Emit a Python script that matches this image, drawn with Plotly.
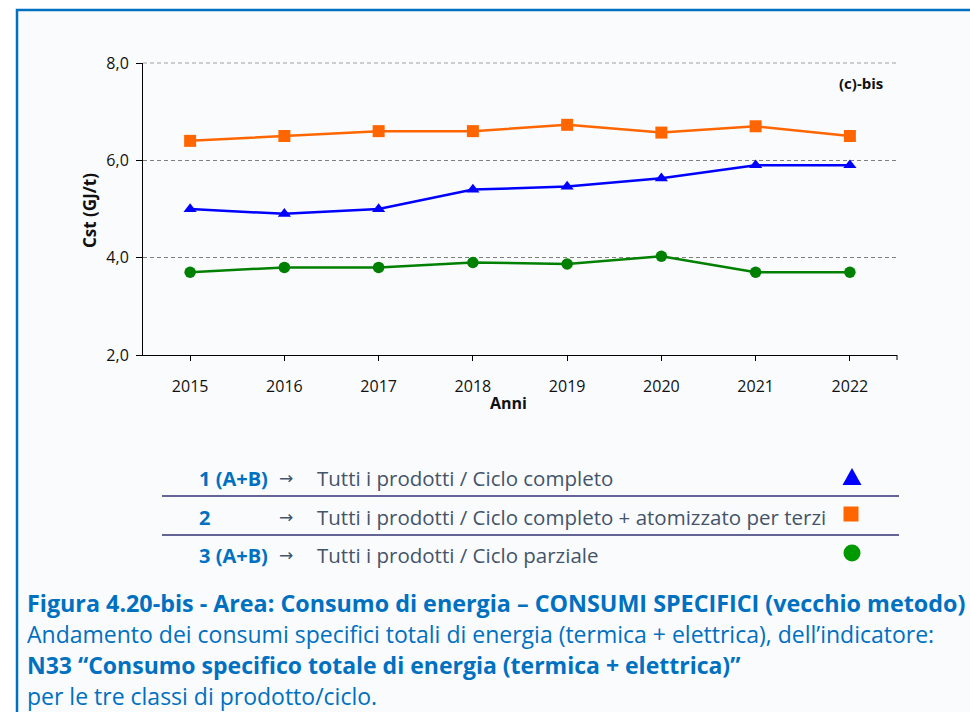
import plotly.graph_objects as go

# ---- data ----
years = ["2015", "2016", "2017", "2018", "2019", "2020", "2021", "2022"]
s1_ciclo_completo = [5.0, 4.9, 5.0, 5.4, 5.46, 5.63, 5.9, 5.9]
s2_completo_terzi = [6.4, 6.5, 6.6, 6.6, 6.73, 6.57, 6.7, 6.5]
s3_ciclo_parziale = [3.7, 3.8, 3.8, 3.9, 3.87, 4.03, 3.7, 3.7]
y_ticks = [2, 4, 6, 8]

# ---- geometry (reference pixel coords) ----
W, H = 970, 712
L, R, T, B = 143, 897, 63, 355
def px(X):
    return (X - L) / (R - L)
def py(Y):
    return (B - Y) / (B - T)

BG = "#F9FBFD"
BLUE_TXT = "#0070C0"
SLATE = "#44546A"
FONT = "Open Sans"

fig = go.Figure()
fig.add_trace(go.Scatter(x=years, y=s2_completo_terzi, mode="lines+markers",
                         line=dict(color="#FF6600", width=2.5),
                         marker=dict(symbol="square", size=12, color="#FF6600"),
                         name="2", showlegend=False))
fig.add_trace(go.Scatter(x=years, y=s1_ciclo_completo, mode="lines+markers",
                         line=dict(color="#0000FF", width=2.5),
                         marker=dict(symbol="triangle-up", size=11.5, color="#0000FF"),
                         name="1 (A+B)", showlegend=False))
fig.add_trace(go.Scatter(x=years, y=s3_ciclo_parziale, mode="lines+markers",
                         line=dict(color="#008000", width=2.5),
                         marker=dict(symbol="circle", size=11.5, color="#008000"),
                         name="3 (A+B)", showlegend=False))

shapes = []
# background frame with blue left/top border
shapes.append(dict(type="rect", xref="paper", yref="paper", layer="below",
                   x0=px(17), x1=px(1000), y0=py(10), y1=py(760),
                   fillcolor=BG, line=dict(color="#0070C0", width=2.5)))
# top gridline at 8,0 (lighter)
shapes.append(dict(type="line", xref="paper", yref="paper", x0=0, x1=1, y0=1, y1=1,
                   line=dict(color="#A0A0A0", width=1, dash="4px,3px")))
# small tick at right end of x axis
shapes.append(dict(type="line", xref="paper", yref="paper",
                   x0=1, x1=1, y0=0, y1=py(360), line=dict(color="black", width=1)))
# legend table lines
for Y in (496, 535):
    shapes.append(dict(type="line", xref="paper", yref="paper",
                       x0=px(162), x1=px(899), y0=py(Y), y1=py(Y),
                       line=dict(color="#646496", width=2)))
# legend symbols
shapes.append(dict(type="path", xref="paper", yref="paper",
                   path=f"M {px(842.5)},{py(485)} L {px(861.5)},{py(485)} L {px(852)},{py(468)} Z",
                   fillcolor="#0000FF", line=dict(width=0)))
shapes.append(dict(type="rect", xref="paper", yref="paper",
                   x0=px(843.5), x1=px(858.5), y0=py(521.5), y1=py(506.5),
                   fillcolor="#FF6600", line=dict(width=0)))
shapes.append(dict(type="circle", xref="paper", yref="paper",
                   x0=px(843.5), x1=px(860.5), y0=py(561.5), y1=py(544.5),
                   fillcolor="#009900", line=dict(width=0)))

ann = []
def text(X, Y, s, size, color, bold=False, xanchor="left", angle=0, family=FONT):
    ann.append(dict(xref="paper", yref="paper", x=px(X), y=py(Y), text=(f"<b>{s}</b>" if bold else s),
                    showarrow=False, xanchor=xanchor, yanchor="middle", textangle=angle,
                    font=dict(family=family, size=size, color=color)))

text(861, 83, "(c)-bis", 15, "#111111", bold=True, xanchor="center")
text(508, 403, "Anni", 16, "#111111", bold=True, xanchor="center")
text(89, 211, "Cst (GJ/t)", 17, "#111111", bold=True, xanchor="center", angle=-90)

rows = [("1 (A+B)", "Tutti i prodotti / Ciclo completo", 478),
        ("2", "Tutti i prodotti / Ciclo completo + atomizzato per terzi", 517),
        ("3 (A+B)", "Tutti i prodotti / Ciclo parziale", 555)]
for lab, desc, Y in rows:
    text(197, Y, lab, 20, BLUE_TXT, bold=True)
    text(277, Y, "→", 17, SLATE, family="DejaVu Sans")
    text(315, Y, desc, 20.5, SLATE)

text(25, 603, "Figura 4.20-bis - Area: Consumo di energia – CONSUMI SPECIFICI (vecchio metodo)", 23.3, BLUE_TXT, bold=True)
text(25, 634, "Andamento dei consumi specifici totali di energia (termica + elettrica), dell’indicatore:", 23, BLUE_TXT)
text(25, 665, "N33 “Consumo specifico totale di energia (termica + elettrica)”", 23, BLUE_TXT, bold=True)
text(25, 696, "per le tre classi di prodotto/ciclo.", 23, BLUE_TXT)

fig.update_layout(
    width=W, height=H, autosize=False,
    margin=dict(l=L, r=W - R, t=T, b=H - B, pad=0),
    paper_bgcolor="white", plot_bgcolor=BG,
    separators=",.",
    font=dict(family=FONT, size=16, color="#111111"),
    shapes=shapes, annotations=ann,
    xaxis=dict(type="category", range=[-0.5, 7.5], showgrid=False,
               showline=True, linecolor="black", linewidth=1,
               ticks="outside", ticklen=5, tickcolor="black",
               tickfont=dict(size=16), ticklabelstandoff=12, zeroline=False),
    yaxis=dict(range=[2, 8], tickvals=y_ticks, tickformat=".1f",
               showline=True, linecolor="black", linewidth=1,
               ticks="outside", ticklen=6, tickcolor="black",
               tickfont=dict(size=16), ticklabelstandoff=4,
               showgrid=True, gridcolor="#7f7f7f", griddash="4px,3px", gridwidth=1,
               zeroline=False),
)

fig.write_html("out.html", config={"displayModeBar": False},
               post_script="document.body.style.margin='0';document.body.style.overflow='hidden';")
